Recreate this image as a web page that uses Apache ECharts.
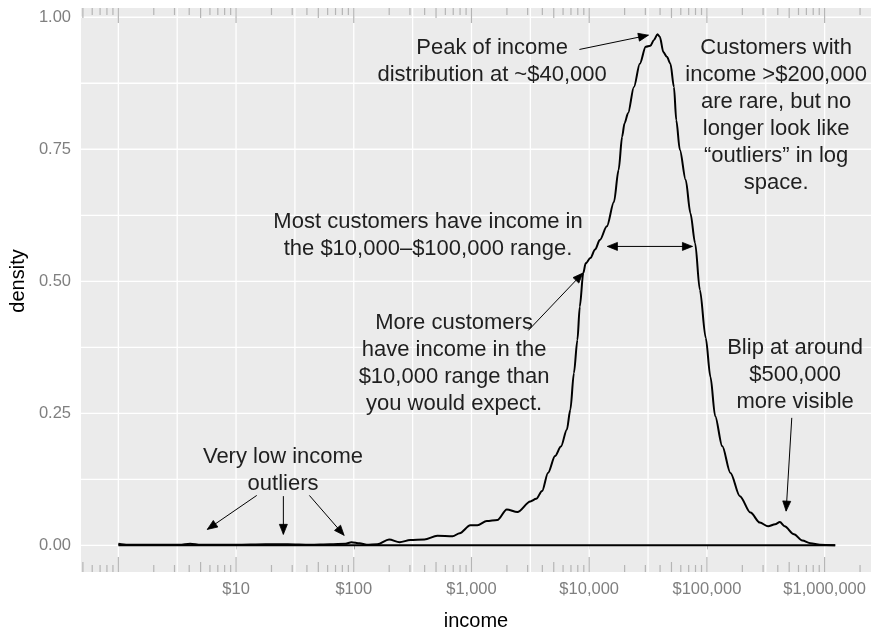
<!DOCTYPE html>
<html>
<head>
<meta charset="utf-8">
<script src="https://cdn.jsdelivr.net/npm/echarts@6/dist/echarts.min.js"></script>
<style>
  html, body { margin: 0; padding: 0; background: #ffffff; }
  #chart { width: 876px; height: 636px; }
</style>
</head>
<body>
<div id="chart"></div>
<script>
// Kernel density of customer income, drawn on a log10 income scale.
const log10Income = [
  0.00, 0.08, 0.27, 0.52, 0.61, 0.70, 1.00, 1.25, 1.44, 1.63, 1.80, 1.93, 1.98, 2.05,
  2.11, 2.20, 2.30, 2.39, 2.48, 2.60, 2.71, 2.84, 2.90, 2.99, 3.05, 3.13, 3.22, 3.30,
  3.39, 3.50, 3.55, 3.60, 3.65, 3.71, 3.76, 3.81, 3.84, 3.87, 3.90, 3.92, 3.95, 3.97,
  4.01, 4.05, 4.09, 4.15, 4.21, 4.25, 4.28, 4.30, 4.33, 4.38, 4.43, 4.48, 4.52, 4.55,
  4.58, 4.60, 4.63, 4.66, 4.69, 4.72, 4.74, 4.77, 4.82, 4.86, 4.90, 4.94, 4.99, 5.03,
  5.07, 5.13, 5.20, 5.28, 5.37, 5.45, 5.52, 5.58, 5.62, 5.66, 5.74, 5.81, 5.88, 5.96,
  6.09
];
const density = [
  0.003, 0.001, 0.001, 0.001, 0.003, 0.001, 0.001, 0.002, 0.002, 0.001, 0.002, 0.003, 0.006, 0.004,
  0.001, 0.002, 0.011, 0.006, 0.010, 0.011, 0.018, 0.017, 0.023, 0.038, 0.038, 0.046, 0.048, 0.068,
  0.063, 0.083, 0.088, 0.103, 0.137, 0.169, 0.187, 0.219, 0.257, 0.326, 0.389, 0.452, 0.516, 0.534,
  0.544, 0.560, 0.578, 0.604, 0.650, 0.711, 0.774, 0.799, 0.818, 0.868, 0.912, 0.944, 0.946, 0.957,
  0.968, 0.963, 0.934, 0.925, 0.912, 0.868, 0.805, 0.749, 0.692, 0.629, 0.572, 0.484, 0.393, 0.319,
  0.245, 0.188, 0.137, 0.093, 0.062, 0.043, 0.036, 0.040, 0.044, 0.036, 0.021, 0.009, 0.004, 0.001,
  0.000
];

// Axis breaks
const xTickIncome = [10, 100, 1000, 10000, 100000, 1000000];
const yTicks = [0, 0.25, 0.5, 0.75, 1];
const xGrid = [0, 0.5, 1, 1.5, 2, 2.5, 3, 3.5, 4, 4.5, 5, 5.5, 6];
const yGrid = [0, 0.125, 0.25, 0.375, 0.5, 0.625, 0.75, 0.875, 1];

// Text notes: anchor in (log10 income, density), centred
const noteX = [3.175, 5.588, 2.631, 2.852, 5.749, 1.399];
const noteY = [0.916, 0.814, 0.587, 0.345, 0.323, 0.142];
const noteText = [
  'Peak of income\ndistribution at ~$40,000',
  'Customers with\nincome >$200,000\nare rare, but no\nlonger look like\n\u201coutliers\u201d in log\nspace.',
  'Most customers have income in\nthe $10,000\u2013$100,000 range.',
  'More customers\nhave income in the\n$10,000 range than\nyou would expect.',
  'Blip at around\n$500,000\nmore visible',
  'Very low income\noutliers'
];

// Arrows: from (x1, y1) to (x2, y2); last field 1 = heads at both ends
const arrowFromX = [3.917, 4.155, 3.483, 5.721, 1.176, 1.402, 1.623];
const arrowFromY = [0.939, 0.566, 0.407, 0.2414, 0.0945, 0.0932, 0.0945];
const arrowToX   = [4.503, 4.877, 3.946, 5.673, 0.756, 1.402, 1.918];
const arrowToY   = [0.966, 0.566, 0.5155, 0.0648, 0.0302, 0.0208, 0.0189];
const arrowBoth  = [0, 1, 0, 0, 0, 0, 0];

const X_MIN = -0.317, X_MAX = 6.394;
const Y_MIN = -0.0505, Y_MAX = 1.0175;
const FONT = '"Liberation Sans", Arial, Helvetica, sans-serif';

const lg = v => Math.round(Math.log10(v) * 1e9) / 1e9;
const xTickValues = xTickIncome.map(lg);

// annotation_logticks-style marks along top and bottom edges
const logTicks = [];
for (let k = -1; k <= 6; k++) {
  for (let m = 1; m <= 9; m++) {
    logTicks.push([lg(m * Math.pow(10, k)), 0, m === 1 ? 2 : (m === 5 ? 1 : 0)]);
  }
}

const curveData = log10Income.map((x, i) => [x, density[i]]);
const baseData = [[log10Income[0], 0], [log10Income[log10Income.length - 1], 0]];
const noteData = noteX.map((x, i) => [x, noteY[i]]);
const arrowData = arrowFromX.map((x, i) => [x, arrowFromY[i], arrowToX[i], arrowToY[i], arrowBoth[i]]);

function arrowHead(tip, from, len, half) {
  const dx = tip[0] - from[0], dy = tip[1] - from[1];
  const d = Math.sqrt(dx * dx + dy * dy) || 1;
  const ux = dx / d, uy = dy / d;
  const bx = tip[0] - ux * len, by = tip[1] - uy * len;
  return [[tip[0], tip[1]], [bx - uy * half, by + ux * half], [bx + uy * half, by - ux * half]];
}

const chart = echarts.init(document.getElementById('chart'), null, { renderer: 'canvas' });

chart.setOption({
  animation: false,
  backgroundColor: '#ffffff',
  grid: {
    left: 81, right: 5, top: 8, bottom: 63,
    show: true, backgroundColor: '#EBEBEB', borderWidth: 0
  },
  xAxis: {
    type: 'value',
    min: X_MIN, max: X_MAX,
    name: 'income',
    nameLocation: 'middle',
    nameGap: 39,
    nameTextStyle: { fontFamily: FONT, fontSize: 20, color: '#000000' },
    axisLine: { show: false },
    axisTick: { show: true, customValues: xTickValues, length: 4, lineStyle: { color: '#666666', width: 1 } },
    axisLabel: {
      customValues: xTickValues,
      margin: 9,
      fontFamily: FONT, fontSize: 16.5, color: '#7f7f7f',
      formatter: v => '$' + Math.round(Math.pow(10, v)).toLocaleString('en-US')
    },
    splitLine: { show: false }
  },
  yAxis: {
    type: 'value',
    min: Y_MIN, max: Y_MAX,
    name: 'density',
    nameLocation: 'middle',
    nameGap: 49,
    nameTextStyle: { fontFamily: FONT, fontSize: 20, color: '#000000', padding: [0, 0, 0, 18] },
    axisLine: { show: false },
    axisTick: { show: true, customValues: yTicks, length: 4, lineStyle: { color: '#666666', width: 1 } },
    axisLabel: {
      customValues: yTicks,
      margin: 10,
      fontFamily: FONT, fontSize: 16.5, color: '#7f7f7f',
      formatter: v => v.toFixed(2)
    },
    splitLine: { show: false }
  },
  series: [
    {
      // vertical panel grid
      type: 'custom', z: 1, silent: true, clip: true,
      data: xGrid.map(v => [v, 0]),
      encode: { x: 0, y: 1 },
      renderItem: (params, api) => {
        const cs = params.coordSys;
        const x = api.coord([api.value(0), 0])[0];
        if (x < cs.x || x > cs.x + cs.width) return null;
        return { type: 'line', shape: { x1: x, y1: cs.y, x2: x, y2: cs.y + cs.height },
                 style: { stroke: '#ffffff', lineWidth: 1.3 } };
      }
    },
    {
      // horizontal panel grid
      type: 'custom', z: 1, silent: true, clip: true,
      data: yGrid.map(v => [0, v]),
      encode: { x: 0, y: 1 },
      renderItem: (params, api) => {
        const cs = params.coordSys;
        const y = api.coord([0, api.value(1)])[1];
        return { type: 'line', shape: { x1: cs.x, y1: y, x2: cs.x + cs.width, y2: y },
                 style: { stroke: '#ffffff', lineWidth: 1.3 } };
      }
    },
    {
      // log ticks on top and bottom edges
      type: 'custom', z: 1, silent: true, clip: true,
      data: logTicks,
      encode: { x: 0, y: 1 },
      renderItem: (params, api) => {
        const cs = params.coordSys;
        const x = api.coord([api.value(0), 0])[0];
        if (x < cs.x || x > cs.x + cs.width) return null;
        const len = [7, 10, 15][api.value(2)];
        const style = { stroke: '#b5b5b5', lineWidth: 1.2 };
        return { type: 'group', children: [
          { type: 'line', shape: { x1: x, y1: cs.y, x2: x, y2: cs.y + len }, style },
          { type: 'line', shape: { x1: x, y1: cs.y + cs.height - len, x2: x, y2: cs.y + cs.height }, style }
        ] };
      }
    },
    {
      type: 'line', z: 3, silent: true,
      data: baseData, showSymbol: false,
      lineStyle: { color: '#000000', width: 2 }
    },
    {
      type: 'line', z: 3, silent: true,
      data: curveData, showSymbol: false,
      smooth: 0.3, smoothMonotone: 'x',
      lineStyle: { color: '#000000', width: 2 }
    },
    {
      type: 'custom', z: 4, silent: true, clip: false,
      data: arrowData,
      encode: { x: [0, 2], y: [1, 3] },
      renderItem: (params, api) => {
        const a = api.coord([api.value(0), api.value(1)]);
        const b = api.coord([api.value(2), api.value(3)]);
        const both = api.value(4) === 1;
        const children = [
          { type: 'line', shape: { x1: a[0], y1: a[1], x2: b[0], y2: b[1] },
            style: { stroke: '#000000', lineWidth: 1 } },
          { type: 'polygon', shape: { points: arrowHead(b, a, 10, 4) },
            style: { fill: '#000000', stroke: '#000000', lineWidth: 0.8 } }
        ];
        if (both) {
          children.push({ type: 'polygon', shape: { points: arrowHead(a, b, 10, 4) },
            style: { fill: '#000000', stroke: '#000000', lineWidth: 0.8 } });
        }
        return { type: 'group', children };
      }
    },
    {
      type: 'custom', z: 5, silent: true, clip: false,
      data: noteData,
      encode: { x: 0, y: 1 },
      renderItem: (params, api) => {
        const p = api.coord([api.value(0), api.value(1)]);
        return { type: 'text', x: p[0], y: p[1],
                 style: { text: noteText[params.dataIndex], fill: '#1f1f1f',
                          font: '22px ' + FONT, align: 'center', verticalAlign: 'middle',
                          lineHeight: 27 } };
      }
    }
  ]
});
</script>
</body>
</html>
